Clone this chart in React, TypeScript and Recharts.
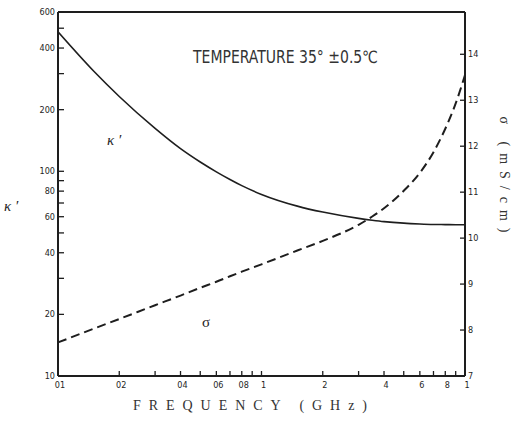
import React from "react";
import {
  ComposedChart,
  Line,
  XAxis,
  YAxis,
  ReferenceLine,
} from "recharts";

// frequency (GHz) of the sampled points
const FREQ = [0.1, 0.15, 0.2, 0.3, 0.4, 0.5, 0.6, 0.7, 0.8, 1, 1.5, 2, 3, 3.5, 4, 5, 6, 7, 8, 9, 10];
// kappa' (left, log axis)
const KAPPA = [480, 308, 232, 162, 129, 111, 99.4, 91.2, 85.1, 77.1, 67.6, 63.2, 58.9, 57.7, 56.8, 55.8, 55.3, 55.0, 54.9, 54.8, 54.8];
// sigma mS/cm (right, linear axis)
const SIGMA = [7.73, 8.03, 8.24, 8.54, 8.75, 8.92, 9.05, 9.17, 9.27, 9.43, 9.73, 9.94, 10.29, 10.47, 10.65, 11.03, 11.42, 11.87, 12.38, 12.93, 13.55];

const X_TICKS = [0.1, 0.2, 0.3, 0.4, 0.5, 0.6, 0.7, 0.8, 0.9, 1, 2, 3, 4, 5, 6, 7, 8, 9, 10];
const X_LABELS: Record<number, string> = {
  0.1: "01", 0.2: "02", 0.4: "04", 0.6: "06", 0.8: "08", 1: "1",
  2: "2", 4: "4", 6: "6", 8: "8", 10: "1",
};
const K_TICKS = [10, 20, 30, 40, 50, 60, 70, 80, 90, 100, 200, 300, 400, 500, 600];
const K_LABELS = [10, 20, 40, 60, 80, 100, 200, 400, 600];
const S_TICKS = [7, 8, 9, 10, 11, 12, 13, 14];

const data = FREQ.map((f, i) => ({ f, kappa: KAPPA[i], sigma: SIGMA[i] }));

const INK = "#1e1e1e";
const tickFont = "'Liberation Sans Narrow', 'DejaVu Sans Condensed', sans-serif";

const LeftTick = ({ x, y, payload }: any) => (
  <g>
    <line x1={x} x2={x + 6} y1={y} y2={y} stroke={INK} strokeWidth={1.3} />
    {K_LABELS.includes(payload.value) && (
      <text x={x - 3} y={y + 3} textAnchor="end" fontSize={9} fontFamily={tickFont} fill={INK}>
        {payload.value}
      </text>
    )}
  </g>
);

const RightTick = ({ x, y, payload }: any) => (
  <g>
    <line x1={x} x2={x - 5} y1={y} y2={y} stroke={INK} strokeWidth={1.3} />
    <text x={x + 3} y={y + 3} textAnchor="start" fontSize={9} fontFamily={tickFont} fill={INK}>
      {payload.value}
    </text>
  </g>
);

const BottomTick = ({ x, y, payload }: any) => (
  <g>
    <line x1={x} x2={x} y1={y} y2={y - 5} stroke={INK} strokeWidth={1.3} />
    {X_LABELS[payload.value] && (
      <text x={x + 2} y={y + 12} textAnchor="middle" fontSize={9} fontFamily={tickFont} fill={INK}>
        {X_LABELS[payload.value]}
      </text>
    )}
  </g>
);

export default function App() {
  return (
    <div style={{ position: "absolute", left: 0, top: 0, width: 519, height: 431, background: "#fff" }}>
      <ComposedChart
        width={519}
        height={431}
        data={data}
        margin={{ top: 12, right: 24, bottom: 35, left: 18 }}
      >
        <XAxis
          dataKey="f"
          type="number"
          scale="log"
          domain={[0.1, 10]}
          allowDataOverflow
          ticks={X_TICKS}
          tick={<BottomTick />}
          tickLine={false}
          tickSize={0}
          tickMargin={0}
          height={20}
          axisLine={{ stroke: INK, strokeWidth: 2 }}
          interval={0}
        />
        <YAxis
          yAxisId="k"
          orientation="left"
          type="number"
          scale="log"
          domain={[10, 600]}
          allowDataOverflow
          ticks={K_TICKS}
          tick={<LeftTick />}
          tickLine={false}
          tickSize={0}
          tickMargin={0}
          width={40}
          axisLine={{ stroke: INK, strokeWidth: 2 }}
          interval={0}
        />
        <YAxis
          yAxisId="s"
          orientation="right"
          type="number"
          domain={[7, 14.92]}
          allowDataOverflow
          ticks={S_TICKS}
          tick={<RightTick />}
          tickLine={false}
          tickSize={0}
          tickMargin={0}
          width={30}
          axisLine={{ stroke: INK, strokeWidth: 2 }}
          interval={0}
        />
        <ReferenceLine yAxisId="k" y={600} stroke={INK} strokeWidth={2} />
        <Line
          yAxisId="k"
          dataKey="kappa"
          type="monotone"
          stroke={INK}
          strokeWidth={1.6}
          dot={false}
          isAnimationActive={false}
        />
        <Line
          yAxisId="s"
          dataKey="sigma"
          type="monotone"
          stroke={INK}
          strokeWidth={2}
          strokeDasharray="9 5"
          dot={false}
          isAnimationActive={false}
        />
      </ComposedChart>
      <svg
        width={519}
        height={431}
        style={{ position: "absolute", left: 0, top: 0, pointerEvents: "none" }}
      >
        <text
          x={193}
          y={63}
          fontSize={17}
          fontFamily="'DejaVu Sans Condensed', 'Liberation Sans Narrow', sans-serif"
          textLength={185}
          lengthAdjust="spacingAndGlyphs"
          fill="#333"
        >
          TEMPERATURE 35° ±0.5℃
        </text>
        <text x={107} y={145} fontSize={15} fontStyle="italic" fontFamily="'Liberation Serif', serif" fill={INK}>
          κ ′
        </text>
        <text x={4} y={211} fontSize={15} fontStyle="italic" fontFamily="'Liberation Serif', serif" fill={INK}>
          κ ′
        </text>
        <text x={202} y={327} fontSize={15} fontFamily="'Liberation Serif', serif" fill={INK}>
          σ
        </text>
        <text
          x={133}
          y={410}
          fontSize={14}
          fontFamily="'Liberation Serif', serif"
          textLength={234}
          lengthAdjust="spacing"
          fill="#333"
        >
          FREQUENCY (GHz)
        </text>
        <text
          x={0}
          y={0}
          transform="translate(500 178) rotate(90)"
          textAnchor="middle"
          fontSize={14}
          fontFamily="'Liberation Serif', serif"
          letterSpacing={7}
          fill="#333"
        >
          σ (mS/cm)
        </text>
      </svg>
    </div>
  );
}
